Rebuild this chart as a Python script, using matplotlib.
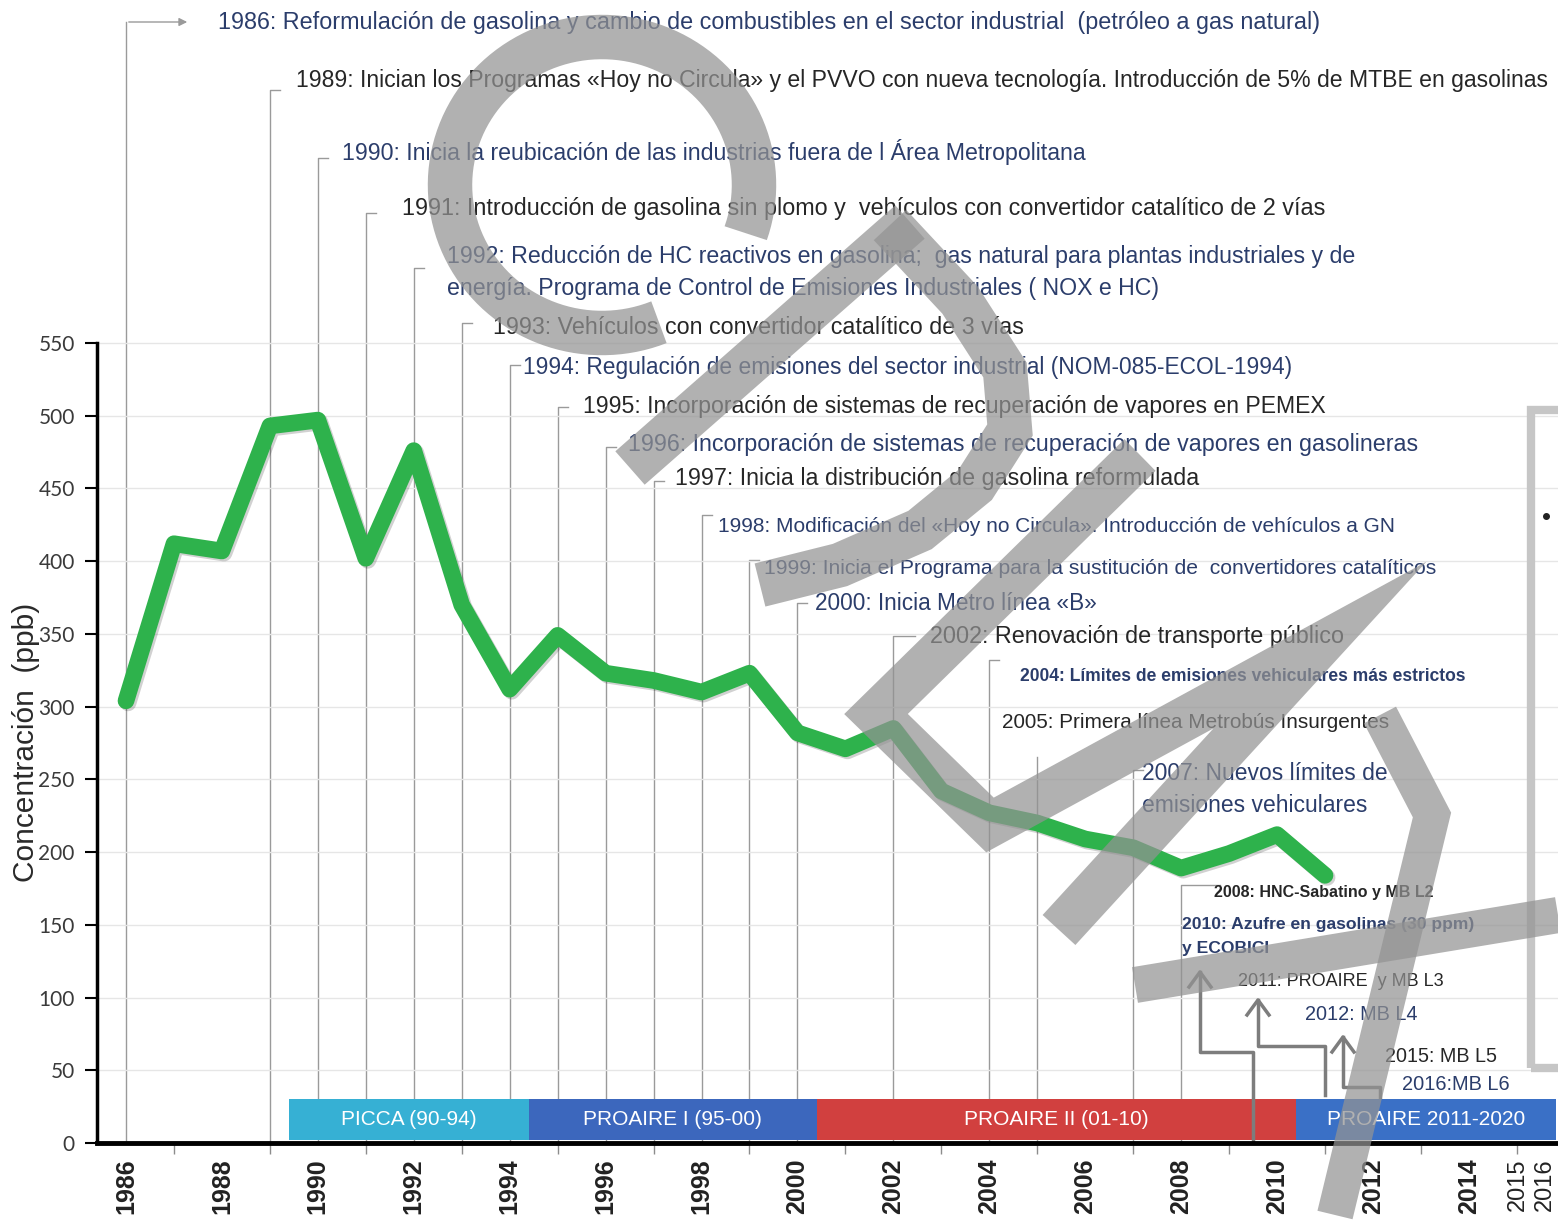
import numpy as np
import matplotlib
matplotlib.use("Agg")
import matplotlib.pyplot as plt
import matplotlib.patheffects as pe
from matplotlib import font_manager
from matplotlib.lines import Line2D
from matplotlib.patches import Rectangle

# ---------------- data ----------------
years = list(range(1986, 2012))
ozone_ppb = [304, 412, 407, 493, 497, 402, 476, 370, 312, 349, 323, 318, 310,
             323, 282, 271, 285, 242, 227, 220, 209, 203, 189, 199, 212, 184]

event_labels = [
    "1986: Reformulación de gasolina y cambio de combustibles en el sector industrial  (petróleo a gas natural)",
    "1989: Inician los Programas «Hoy no Circula» y el PVVO con nueva tecnología. Introducción de 5% de MTBE en gasolinas",
    "1990: Inicia la reubicación de las industrias fuera de l Área Metropolitana",
    "1991: Introducción de gasolina sin plomo y  vehículos con convertidor catalítico de 2 vías",
    "1992: Reducción de HC reactivos en gasolina;  gas natural para plantas industriales y de\nenergía. Programa de Control de Emisiones Industriales ( NOX e HC)",
    "1993: Vehículos con convertidor catalítico de 3 vías",
    "1994: Regulación de emisiones del sector industrial (NOM-085-ECOL-1994)",
    "1995: Incorporación de sistemas de recuperación de vapores en PEMEX",
    "1996: Incorporación de sistemas de recuperación de vapores en gasolineras",
    "1997: Inicia la distribución de gasolina reformulada",
    "1998: Modificación del «Hoy no Circula». Introducción de vehículos a GN",
    "1999: Inicia el Programa para la sustitución de  convertidores catalíticos",
    "2000: Inicia Metro línea «B»",
    "2002: Renovación de transporte público",
    "2004: Límites de emisiones vehiculares más estrictos",
    "2005: Primera línea Metrobús Insurgentes",
    "2007: Nuevos límites de\nemisiones vehiculares",
    "2008: HNC-Sabatino y MB L2",
    "2010: Azufre en gasolinas (30 ppm)\ny ECOBICI",
    "2011: PROAIRE  y MB L3",
    "2012: MB L4",
    "2015: MB L5",
    "2016:MB L6",
]
leader_years = [1986, 1989, 1990, 1991, 1992, 1993, 1994, 1995, 1996, 1997,
                1998, 1999, 2000, 2002, 2004, 2005, 2007, 2008]

program_names = ["PICCA (90-94)", "PROAIRE I (95-00)", "PROAIRE II (01-10)", "PROAIRE 2011-2020"]
program_start = [1990, 1995, 2001, 2011]
program_colors = ["#36b0d4", "#3c67bd", "#d1403f", "#3a70c6"]

ytick_vals = list(range(0, 551, 50))
xtick_years = list(range(1986, 2015, 2)) + [2015, 2016]

# ---------------- layout (pixels of the 1558x1222 picture) ----------------
W, H = 1558, 1222
PX_YEAR = 47.96          # px per year
PX_PPB = 800 / 550       # px per ppb
BLUE, DARK = "#2b3d6b", "#262626"

# x_left, y_center, x_right, colour, weight, narrow?
text_layout = [
    (218, 22, 1318, BLUE, "normal", True),
    (296, 80, 1553, DARK, "normal", True),
    (342, 152, 1092, BLUE, "normal", True),
    (402, 208, 1326, DARK, "normal", True),
    (447, 257, 1360, BLUE, "normal", True),
    (493, 327, 1024, DARK, "normal", True),
    (523, 368, 1294, BLUE, "normal", True),
    (583, 407, 1328, DARK, "normal", True),
    (628, 444, 1416, BLUE, "normal", False),
    (675, 479, 1201, DARK, "normal", False),
    (718, 527, 1397, BLUE, "normal", False),
    (764, 568, 1438, BLUE, "normal", False),
    (815, 603, 1097, BLUE, "normal", True),
    (930, 636, 1343, DARK, "normal", True),
    (1020, 677, 1465, BLUE, "bold", True),
    (1002, 722, 1390, DARK, "normal", True),
    (1142, 773, 1388, BLUE, "normal", False),
    (1214, 893, 1433, DARK, "bold", True),
    (1182, 924, 1473, BLUE, "bold", True),
    (1238, 981, 1445, DARK, "normal", False),
    (1305, 1014, 1418, BLUE, "normal", False),
    (1385, 1056, 1497, DARK, "normal", False),
    (1402, 1084, 1510, BLUE, "normal", False),
]
line_gap = {4: 32, 16: 32, 18: 25}

leader_top = [22, 90, 158, 213, 268, 323, 365, 407, 447, 481, 515, 560, 603, 636, 660, 757, 770, 885]
leader_hook = [64, 10, 10, 10, 10, 10, 10, 10, 10, 10, 10, 10, 10, 22, 10, 0, 10, 39]

elbow_arrows = [
    [(1253, 1140), (1253, 1052), (1200, 1052), (1200, 972)],
    [(1325, 1095), (1325, 1046), (1258, 1046), (1258, 1000)],
    [(1380, 1097), (1380, 1087), (1343, 1087), (1343, 1037)],
]

names = {f.name for f in font_manager.fontManager.ttflist}
NARROW = "Liberation Sans Narrow" if "Liberation Sans Narrow" in names else "Liberation Sans"
REG = "Liberation Sans"

fig = plt.figure(figsize=(W / 100, H / 100), dpi=100)
ax = fig.add_axes([97 / W, 79 / H, (W - 97) / W, 1143 / H])
ax.set_xlim(1986 - (126 - 97) / PX_YEAR, 1986 + (W - 126) / PX_YEAR)
ax.set_ylim(0, 1143 / PX_PPB)
renderer = fig.canvas.get_renderer()


def to_data(px, py):
    return ax.transData.inverted().transform((px, H - py))


# spines / ticks
for s in ["top", "right"]:
    ax.spines[s].set_visible(False)
ax.spines["left"].set_bounds(0, 550)
ax.spines["left"].set_linewidth(2.5)
ax.spines["bottom"].set_linewidth(3.5)
ax.spines["bottom"].set_zorder(6)
ax.set_yticks(ytick_vals)
ax.set_yticklabels([str(v) for v in ytick_vals], family="Lato", fontsize=15, color="#3a3a3a")
ax.tick_params(axis="y", length=9, width=1.5, pad=7)
ax.grid(axis="y", color="#e6e6e6", lw=1, zorder=0)

# 2015 and 2016 are squeezed together at the right end, as in the source chart
tick_pos = [y for y in xtick_years if y <= 2014] + [2015.02, 2015.58]
ax.set_xticks(tick_pos)
ax.set_xticklabels([str(y) for y in xtick_years], rotation=90, family=NARROW,
                   fontsize=18, fontweight="bold", color="#222222")
for lab, y in zip(ax.get_xticklabels(), xtick_years):
    if y > 2014:
        lab.set_fontweight("normal")
        lab.set_fontsize(17)
ax.tick_params(axis="x", length=0, pad=11)
ax.set_xticks(range(1987, 2016, 2), minor=True)
ax.tick_params(axis="x", which="minor", length=8, width=1, color="#8c8c8c")

# leader lines
for i, (yr, top, hook) in enumerate(zip(leader_years, leader_top, leader_hook)):
    x_pix = ax.transData.transform((yr, 0))[0]
    _, y_top = to_data(x_pix, top)
    x_end, _ = to_data(x_pix + hook, top)
    if i == 0:
        ax.plot([yr, yr], [0, y_top], color="#9a9a9a", lw=1, zorder=1)
        ax.annotate("", xy=(x_end, y_top), xytext=(yr, y_top),
                    arrowprops=dict(arrowstyle="-|>", color="#9a9a9a", lw=1, mutation_scale=12))
    else:
        ax.plot([yr, yr, x_end], [0, y_top, y_top], color="#9a9a9a", lw=1, zorder=1)

# ozone line
ax.plot(years, ozone_ppb, color="#2eb24c", lw=12, solid_joinstyle="round",
        solid_capstyle="round", zorder=3,
        path_effects=[pe.SimpleLineShadow(offset=(1.5, -1.5), shadow_color="k", alpha=0.18), pe.Normal()])

# programme bars
x_right = ax.get_xlim()[1]
lefts = [s - 0.6 for s in program_start]
rights = lefts[1:] + [x_right - 0.05]
ax.bar(lefts, 28, width=[r - l for l, r in zip(lefts, rights)], bottom=2, align="edge",
       color=program_colors, edgecolor="none", zorder=4)
for l, r, name in zip(lefts, rights, program_names):
    ax.text((l + r) / 2, 16, name, ha="center", va="center", color="white",
            family=NARROW, fontsize=15, zorder=5)

# elbow arrows
for path in elbow_arrows:
    pts = [to_data(px, py) for px, py in path]
    ax.plot([p[0] for p in pts], [p[1] for p in pts], color="#7d7d7d", lw=2.5, zorder=5)
    hx, hy = path[-1]
    head = [to_data(hx - 11, hy + 15), to_data(hx, hy), to_data(hx + 11, hy + 15)]
    ax.plot([p[0] for p in head], [p[1] for p in head], color="#7d7d7d", lw=2.5, zorder=5)

# event annotations, fitted to their width in the picture
for i, (label, lay) in enumerate(zip(event_labels, text_layout)):
    x0, yc, x1, col, wt, narrow = lay
    lines = label.split("\n")
    fam = NARROW if narrow else REG
    t = fig.text(x0 / W, 1 - yc / H, lines[0], color=col, fontweight=wt, family=fam,
                 fontsize=16, ha="left", va="center")
    w = t.get_window_extent(renderer).width
    t.set_fontsize(16 * (x1 - x0) / w)
    for k, extra in enumerate(lines[1:], start=1):
        fig.text(x0 / W, 1 - (yc + k * line_gap[i]) / H, extra, color=col, fontweight=wt,
                 family=fam, fontsize=t.get_fontsize(), ha="left", va="center")

# y label
fig.text(26 / W, 1 - 742 / H, "Concentración  (ppb)", rotation=90, ha="center",
         va="center", family=NARROW, fontsize=21.5, color="#2a2a2a")

# grey frame at the right edge
fig.add_artist(Rectangle((1531 / W, 1 - 1068 / H), 100 / W, (1068 - 410) / H, fill=False,
                         edgecolor="#c6c6c6", lw=6, transform=fig.transFigure))
fig.add_artist(Line2D([1546 / W], [1 - 516 / H], marker="o", ms=4, color="#222222",
                      transform=fig.transFigure))

# watermark strokes
t = np.radians(np.linspace(-19, 292, 120))
ring = [(602 + 152 * np.cos(a), 185 - 148 * np.sin(a)) for a in t]
strokes = [
    (ring, 32),
    ([(910, 222), (630, 468)], 32),
    ([(890, 225), (960, 300), (1005, 370), (1010, 430), (975, 485), (920, 530),
      (840, 565), (760, 585)], 32),
    ([(1140, 455), (876, 714), (990, 825), (1320, 645), (1059, 930)], 32),
    ([(1380, 715), (1432, 815), (1335, 1215)], 26),
    ([(1135, 985), (1558, 915)], 26),
]
for pts, lw in strokes:
    fig.add_artist(Line2D([p[0] / W for p in pts], [1 - p[1] / H for p in pts],
                          color="#939393", alpha=0.72, lw=lw, solid_joinstyle="miter",
                          solid_capstyle="butt", transform=fig.transFigure, zorder=20))

fig.savefig("out.png", dpi=100)
